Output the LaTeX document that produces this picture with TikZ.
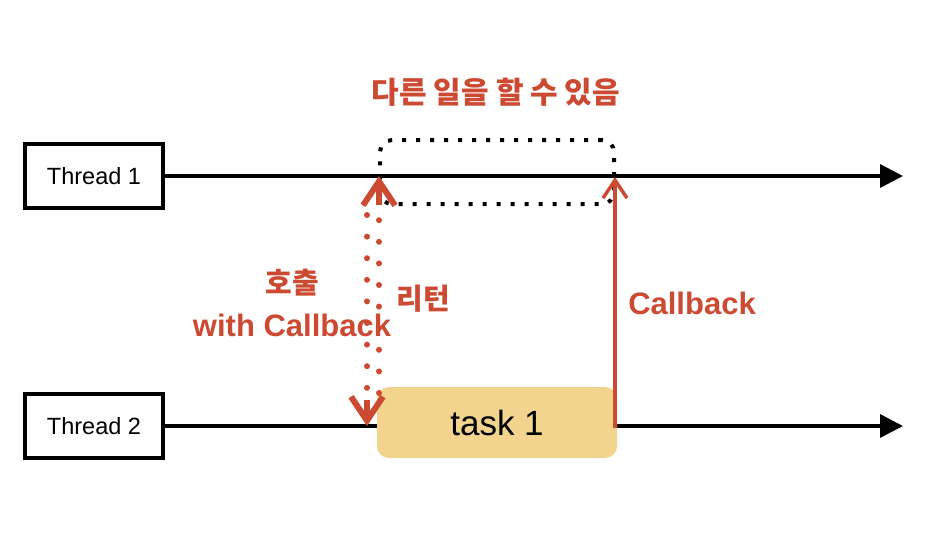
\documentclass[tikz,border=0pt]{standalone}
\usepackage{fontspec}
\setmainfont{Liberation Sans}
\newfontfamily\kr{Noto Sans CJK KR}
\usetikzlibrary{arrows.meta}
\definecolor{myred}{RGB}{205,74,50}
\definecolor{taskfill}{RGB}{243,212,142}
\begin{document}
\begin{tikzpicture}[x=1pt,y=-1pt,
  threadbox/.style={draw=black,line width=4pt,minimum width=138pt,minimum height=64pt,inner sep=0pt,font=\fontsize{23.5}{26}\selectfont},
  threadline/.style={line width=3.5pt,-{Triangle[length=23pt,width=23pt]}},
  taskbox/.style={fill=taskfill,rounded corners=12pt,minimum width=240pt,minimum height=71pt,inner sep=0pt,font=\fontsize{35}{40}\selectfont},
  dotbox/.style={draw=black,line width=4pt,dash pattern=on 4pt off 10pt,rounded corners=12pt,minimum width=234pt,minimum height=64pt,inner sep=0pt},
  redlabel/.style={text=myred,inner sep=0pt},
  krlabel/.style={redlabel,font=\kr\bfseries\fontsize{29}{34}\selectfont},
  enlabel/.style={redlabel,font=\bfseries\fontsize{31}{36}\selectfont},
  reddots/.style={myred,line width=6pt,line cap=round,dash pattern=on 0pt off 21.6pt},
  redhead/.style={myred,line width=6pt,-{Straight Barb[length=24pt,width=32pt]}},
  cbarrow/.style={myred,line width=3.5pt,-{Straight Barb[length=18pt,width=24pt]}}
]
\useasboundingbox (0,0) rectangle (936,558);

% threads
\node[threadbox] (t1) at (94,176) {Thread 1};
\node[threadbox] (t2) at (94,426) {Thread 2};
\coordinate (t1end) at (903,176);
\coordinate (t2end) at (903,426);
\draw[threadline] (t1.east) -- (t1end);
\draw[threadline] (t2.east) -- (t2end);

% dotted busy box
\node[dotbox] (busy) at (497,172) {};

% task box
\node[taskbox] (task) at (497,422.5) {task 1};

% labels
\node[krlabel,font=\kr\bfseries\fontsize{30}{36}\selectfont] (title) at (496,92) {다른 일을 할 수 있음};
\node[krlabel] (call) at (292,283) {호출};
\node[enlabel] (wcb) at (292,325) {with Callback};
\node[krlabel] (ret) at (423,299) {리턴};
\node[enlabel] (cb) at (692,303) {Callback};

% call (down) dotted arrow
\coordinate (dA) at (367,215);
\coordinate (dB) at (367,400);
\coordinate (dC) at (367,426);
\draw[reddots] (dA) -- (dB);
\draw[redhead] (dB) -- (dC);

% return (up) dotted arrow
\coordinate (uA) at (379,393);
\coordinate (uB) at (379,205);
\coordinate (uC) at (379,176);
\draw[reddots] (uA) -- (uB);
\draw[redhead] (uB) -- (uC);

% callback arrow
\coordinate (cbS) at (615,428);
\coordinate (cbE) at (615,177);
\draw[cbarrow] (cbS) -- (cbE);
\end{tikzpicture}
\end{document}
